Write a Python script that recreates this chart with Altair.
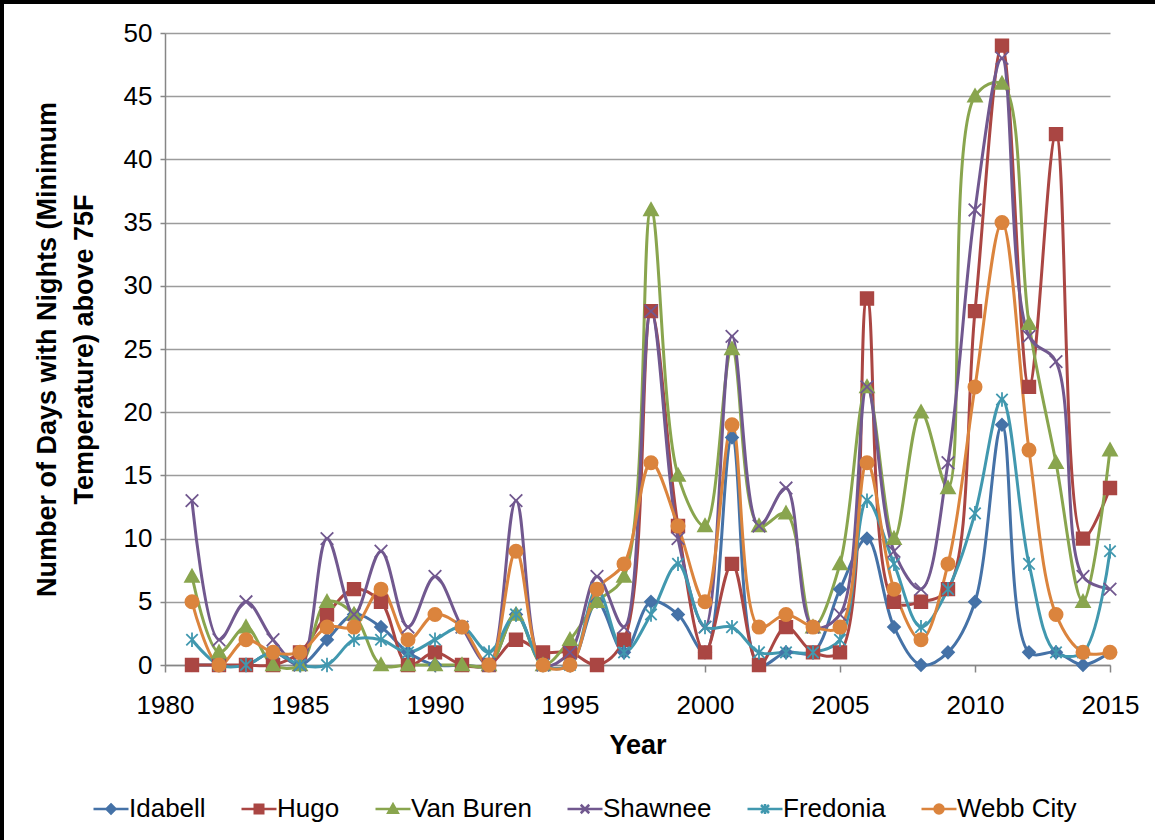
import altair as alt
import pandas as pd

# Nights per year with minimum temperature above 75F, by station
years = list(range(1981, 2016))
idabell = [0, 0, 0, 1, 0, 2, 4, 3, 1, 0, 0, 0, 4, 0, 0, 5, 1, 5, 4, 1, 18, 0, 1, 1, 6,
           10, 3, 0, 1, 5, 19, 1, 1, 0, 1]
hugo = [0, 0, 0, 0, 1, 4, 6, 5, 0, 1, 0, 0, 2, 1, 1, 0, 2, 28, 11, 1, 8, 0, 3, 1, 1,
        29, 5, 5, 6, 28, 49, 22, 42, 10, 14]
van_buren = [7, 1, 3, 0, 0, 5, 4, 0, 0, 0, 0, 0, 4, 0, 2, 5, 7, 36, 15, 11, 25, 11, 12, 3, 8,
             22, 10, 20, 14, 45, 46, 27, 16, 5, 17]
shawnee = [13, 2, 5, 2, 0, 10, 4, 9, 3, 7, 3, 0, 13, 0, 1, 7, 3, 28, 10, 3, 26, 11, 14, 3, 4,
           22, 9, 6, 16, 36, 48, 26, 24, 7, 6]
fredonia = [2, 0, 0, 1, 0, 0, 2, 2, 1, 2, 3, 1, 4, 0, 0, 6, 1, 4, 8, 3, 3, 1, 1, 1, 2,
            13, 8, 3, 6, 12, 21, 8, 1, 1, 9]
webb_city = [5, 0, 2, 1, 1, 3, 3, 6, 2, 4, 3, 0, 9, 0, 0, 6, 8, 16, 11, 5, 19, 3, 4, 3, 3,
             16, 6, 2, 8, 22, 35, 17, 4, 1, 1]

series_names = ["Idabell", "Hugo", "Van Buren", "Shawnee", "Fredonia", "Webb City"]
series_values = [idabell, hugo, van_buren, shawnee, fredonia, webb_city]
colors = ["#4572A7", "#AA4643", "#89A54E", "#71588F", "#4198AF", "#DB843D"]
x_ticks = [1980, 1985, 1990, 1995, 2000, 2005, 2010, 2015]
y_ticks = list(range(0, 55, 5))

# marker outlines in symbol units
marker_paths = [
    "M0,-1L1,0L0,1L-1,0Z",
    "M-1.05,-1.05L1.05,-1.05L1.05,1.05L-1.05,1.05Z",
    "M0,-1.15L1.15,0.9L-1.15,0.9Z",
    "M-1.05,-1.05L1.05,1.05M-1.05,1.05L1.05,-1.05",
    "M-0.95,-0.95L0.95,0.95M-0.95,0.95L0.95,-0.95M0,-1.2L0,1.2",
    "M1.1,0A1.1,1.1 0 1,1 -1.1,0A1.1,1.1 0 1,1 1.1,0Z",
]
open_markers = ["Shawnee", "Fredonia"]
marker_fill = [("transparent" if n in open_markers else c) for n, c in zip(series_names, colors)]

# legend swatches: a short line with a smaller marker on it
legend_marks = [
    "M0,-0.9L0.9,0L0,0.9L-0.9,0Z",
    "M-0.85,-0.85L0.85,-0.85L0.85,0.85L-0.85,0.85Z",
    "M0,-0.95L0.95,0.75L-0.95,0.75Z",
    "M-0.85,-0.85L0.85,0.85M-0.85,0.85L0.85,-0.85",
    "M-0.8,-0.8L0.8,0.8M-0.8,0.8L0.8,-0.8M0,-1L0,1",
    "M0.9,0A0.9,0.9 0 1,1 -0.9,0A0.9,0.9 0 1,1 0.9,0Z",
]
legend_paths = ["M-3.5,0L3.5,0" + m for m in legend_marks]

rows = []
for name, vals in zip(series_names, series_values):
    for yr, v in zip(years, vals):
        rows.append({"year": yr, "days": v, "series": name})
df = pd.DataFrame(rows)

FONT = "Liberation Sans"

x_enc = alt.X(
    "year:Q",
    scale=alt.Scale(domain=[1980, 2015], nice=False, zero=False),
    axis=alt.Axis(
        values=x_ticks, format="d", title="Year", grid=False, labelFlush=False,
        tickSize=7, labelPadding=20, titlePadding=14,
    ),
)
y_enc = alt.Y(
    "days:Q",
    scale=alt.Scale(domain=[0, 50], nice=False),
    axis=alt.Axis(
        values=y_ticks, title=["Number of Days with Nights (Minimum", "Temperature) above 75F"],
        tickSize=5, labelPadding=8, titlePadding=25, titleLineHeight=37,
    ),
)

color_scale = alt.Scale(domain=series_names, range=colors)
fill_scale = alt.Scale(domain=series_names, range=marker_fill)

lines = alt.Chart(df).mark_line(interpolate="catmull-rom", strokeWidth=3).encode(
    x=x_enc,
    y=y_enc,
    stroke=alt.Stroke("series:N", scale=color_scale, legend=None),
)

points = alt.Chart(df).mark_point(size=144, opacity=1, strokeWidth=1.8).encode(
    x="year:Q",
    y="days:Q",
    stroke=alt.Stroke("series:N", scale=color_scale, legend=None),
    fill=alt.Fill("series:N", scale=fill_scale, legend=None),
    shape=alt.Shape("series:N", scale=alt.Scale(domain=series_names, range=marker_paths), legend=None),
)

legend_spec = alt.Legend(
    title=None, orient="none", direction="horizontal", columns=6,
    legendX=-67, legendY=763, symbolSize=100, symbolStrokeWidth=2.5, symbolOpacity=1,
    labelOffset=5, columnPadding=30,
    labelFontSize=26, labelFont=FONT, labelColor="#000000", padding=0,
)

# invisible layer that only carries the key (line + marker swatches)
key = alt.Chart(df).mark_point(size=100, opacity=0, strokeWidth=2.5).encode(
    x="year:Q",
    y="days:Q",
    stroke=alt.Stroke("series:N", scale=color_scale, legend=legend_spec),
    fill=alt.Fill("series:N", scale=fill_scale, legend=legend_spec),
    shape=alt.Shape("series:N", scale=alt.Scale(domain=series_names, range=legend_paths), legend=legend_spec),
)

# outer frame around the figure
frame = alt.Chart(df).mark_rect(fill="transparent", stroke="#000000", strokeWidth=2.5).encode(
    x=alt.value(-163), x2=alt.value(1100), y=alt.value(-31), y2=alt.value(900)
)

chart = (
    alt.layer(lines, points, key, frame)
    .resolve_scale(shape="independent", fill="independent", stroke="independent")
    .properties(
        width=945, height=632,
        autosize=alt.AutoSizeParams(type="none"),
        padding={"left": 165, "top": 33, "right": 45, "bottom": 175},
        background="#FFFFFF",
    )
    .configure_view(stroke=None)
    .configure_axis(
        labelFont=FONT, labelFontSize=26, labelColor="#000000",
        titleFont=FONT, titleFontSize=27, titleFontWeight="bold", titleColor="#000000",
        domainColor="#868686", domainWidth=1.5, tickColor="#868686", tickWidth=1.5,
        gridColor="#9C9C9C", gridWidth=1.3,
    )
)

chart.save("out.html", embed_options={"renderer": "svg", "actions": False})
